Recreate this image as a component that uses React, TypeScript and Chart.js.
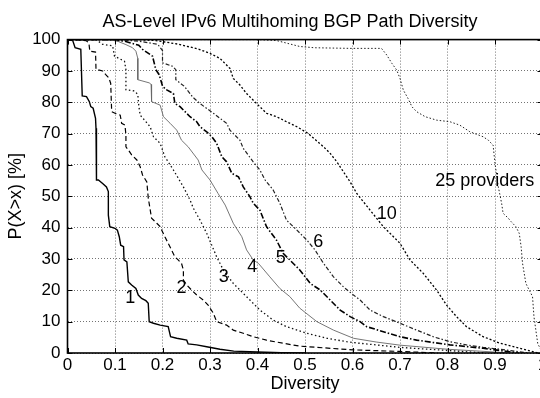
import React, { useEffect, useRef } from "react";
import { Chart, registerables } from "chart.js";

Chart.register(...registerables);

const FONT = "'Liberation Sans', Arial, Helvetica, sans-serif";

const chartTitle = "AS-Level IPv6 Multihoming BGP Path Diversity";
const xAxisTitle = "Diversity";
const yAxisTitle = "P(X>x) [%]";
const xTickLabels = ["0", "0.1", "0.2", "0.3", "0.4", "0.5", "0.6", "0.7", "0.8", "0.9", "1"];
const yTickLabels = ["0", "10", "20", "30", "40", "50", "60", "70", "80", "90", "100"];

// Number of providers (curve labels) and label anchor positions (data units)
const curveNames = ["1", "2", "3", "4", "5", "6", "10", "25 providers"];
const labelX = [0.132, 0.24, 0.329, 0.389, 0.449, 0.528, 0.672, 0.774];
const labelY = [17.4, 20.6, 24.1, 27.5, 30.2, 35.5, 44.3, 54.9];

// 1 provider
const div1 = [0, 0.011, 0.016, 0.028, 0.031, 0.04, 0.046, 0.049, 0.054, 0.059, 0.06, 0.061, 0.065, 0.074, 0.082, 0.086, 0.086, 0.089, 0.1, 0.105, 0.109, 0.112, 0.118, 0.119, 0.125, 0.128, 0.135, 0.144, 0.149, 0.156, 0.165, 0.17, 0.172, 0.181, 0.195, 0.212, 0.217, 0.23, 0.251, 0.254, 0.272, 0.293, 0.321, 0.35, 0.4, 0.45, 0.5];
const pct1 = [100, 99.7, 97.4, 96.9, 82, 81.8, 80.2, 78.6, 78.1, 74.9, 71.7, 55.2, 55.2, 54.1, 53, 51.5, 44, 40.3, 39.8, 39.2, 37.1, 34.4, 33.9, 29.7, 29.1, 22.7, 21.7, 20.6, 18.5, 17.4, 16.7, 15.9, 10, 9.5, 8.9, 8.4, 5.2, 4.7, 4.1, 2.9, 2.6, 2.0, 1.2, 0.6, 0.3, 0.1, 0];

// 2 providers
const div2 = [0, 0.039, 0.045, 0.047, 0.059, 0.06, 0.074, 0.08, 0.087, 0.091, 0.093, 0.1, 0.111, 0.114, 0.121, 0.123, 0.123, 0.128, 0.135, 0.146, 0.153, 0.158, 0.167, 0.17, 0.177, 0.188, 0.195, 0.205, 0.212, 0.219, 0.226, 0.233, 0.24, 0.244, 0.244, 0.251, 0.261, 0.272, 0.286, 0.296, 0.307, 0.314, 0.335, 0.349, 0.37, 0.391, 0.419, 0.454, 0.489, 0.525, 0.6, 0.7, 0.78];
const pct2 = [100, 99.7, 98.9, 96.3, 96, 90.5, 90, 88.9, 87.8, 86, 77, 76.5, 75.9, 73.3, 72.7, 69.5, 65.8, 64.8, 63.2, 61.6, 59.4, 56.8, 54.6, 49.5, 43, 41.4, 40.3, 37.1, 35, 32.9, 30.7, 29.7, 28.6, 26.5, 23.3, 21.7, 20.1, 18.5, 16.9, 15.3, 12.7, 10, 8.9, 7.3, 6.3, 5.2, 4.1, 3.1, 2.2, 1.8, 1, 0.5, 0];

// 3 providers
const div3 = [0, 0.06, 0.074, 0.095, 0.099, 0.12, 0.123, 0.123, 0.141, 0.148, 0.15, 0.153, 0.156, 0.174, 0.181, 0.195, 0.205, 0.223, 0.244, 0.258, 0.265, 0.279, 0.293, 0.314, 0.328, 0.349, 0.363, 0.384, 0.405, 0.433, 0.461, 0.504, 0.546, 0.588, 0.616, 0.7, 0.8, 0.86, 0.88];
const pct3 = [100, 100, 98.5, 98, 94.7, 93.1, 90.4, 84, 83.6, 82.5, 79, 75.9, 75.4, 72.2, 69, 66.9, 62.6, 58.4, 53, 48.8, 46.2, 42.4, 38.2, 30.7, 26.5, 22.2, 20.1, 16.9, 13.7, 10.5, 8.4, 6.3, 4.7, 3.6, 3.1, 1.8, 0.8, 0.2, 0];

// 4 providers
const div4 = [0, 0.08, 0.102, 0.123, 0.137, 0.144, 0.148, 0.148, 0.172, 0.176, 0.177, 0.195, 0.202, 0.216, 0.23, 0.24, 0.254, 0.275, 0.283, 0.3, 0.317, 0.332, 0.349, 0.367, 0.377, 0.391, 0.402, 0.426, 0.447, 0.468, 0.489, 0.525, 0.56, 0.602, 0.65, 0.7, 0.8, 0.9, 0.93];
const pct4 = [100, 100, 99.7, 98.4, 97.4, 96.3, 94, 87.2, 86.2, 85.7, 80.2, 79.1, 75.4, 73.3, 71.1, 67.9, 65.8, 61.6, 58.4, 55.2, 50.9, 47.2, 41.4, 37.1, 32.9, 29.7, 28.6, 24.3, 20.6, 18, 14.3, 10, 7.3, 4.7, 3.5, 2.5, 1.2, 0.3, 0];

// 5 providers
const div5 = [0, 0.08, 0.12, 0.15, 0.158, 0.179, 0.186, 0.193, 0.2, 0.207, 0.223, 0.226, 0.237, 0.258, 0.272, 0.279, 0.293, 0.304, 0.314, 0.325, 0.335, 0.346, 0.36, 0.37, 0.384, 0.391, 0.405, 0.419, 0.44, 0.454, 0.468, 0.489, 0.511, 0.532, 0.553, 0.574, 0.595, 0.616, 0.63, 0.665, 0.7, 0.735, 0.805, 0.875, 0.95];
const pct5 = [100, 100, 99.5, 98.2, 96.9, 94.7, 90.4, 88.8, 85.2, 84.1, 82.8, 79.6, 78.6, 75.4, 73.8, 72.2, 70.6, 69, 66.9, 62.6, 61, 57.3, 56.2, 53, 49.9, 47.8, 45.6, 40.3, 36, 31.8, 29.7, 26.5, 22.2, 20.1, 16.9, 13.7, 11.6, 10, 8.4, 6.8, 5.2, 4.1, 2.6, 1.5, 0];

// 6 providers
const div6 = [0, 0.1, 0.15, 0.19, 0.2, 0.2, 0.221, 0.228, 0.228, 0.246, 0.264, 0.279, 0.307, 0.335, 0.342, 0.363, 0.37, 0.391, 0.405, 0.416, 0.433, 0.447, 0.461, 0.483, 0.504, 0.521, 0.539, 0.56, 0.581, 0.602, 0.616, 0.637, 0.665, 0.7, 0.735, 0.77, 0.805, 0.84, 0.875, 0.911, 0.97];
const pct6 = [100, 100, 99.5, 98.5, 96.5, 92.6, 91.5, 90.4, 87.2, 85.1, 81.6, 79.6, 76.5, 73.3, 71.1, 67.9, 65.3, 61, 58.4, 55.2, 52, 47.8, 42.4, 39.2, 36, 32.9, 28.6, 24.3, 21.1, 18.5, 16.9, 13.7, 11.6, 9.5, 7.3, 5.2, 3.6, 2.6, 1.8, 1.2, 0];

// 10 providers
const div10 = [0, 0.14, 0.186, 0.235, 0.277, 0.3, 0.321, 0.342, 0.349, 0.363, 0.377, 0.398, 0.419, 0.44, 0.461, 0.483, 0.507, 0.539, 0.553, 0.567, 0.581, 0.595, 0.609, 0.637, 0.665, 0.7, 0.721, 0.749, 0.777, 0.798, 0.819, 0.84, 0.875, 0.911, 0.953, 0.99];
const pct10 = [100, 100, 99.7, 98.5, 96.9, 95.6, 94, 90.8, 87.6, 85.5, 82.8, 79.6, 76.5, 75.4, 73.8, 72.2, 70, 65.8, 63.7, 61, 57.8, 54.6, 50.9, 45.6, 40.3, 35, 29.7, 25.4, 20.1, 15.3, 11.6, 8.4, 5.2, 3.1, 1.5, 0];

// 25 providers
const div25 = [0, 0.4, 0.44, 0.489, 0.52, 0.595, 0.661, 0.672, 0.683, 0.693, 0.7, 0.707, 0.717, 0.725, 0.735, 0.753, 0.777, 0.805, 0.826, 0.847, 0.875, 0.886, 0.896, 0.9, 0.907, 0.914, 0.917, 0.928, 0.934, 0.944, 0.951, 0.955, 0.958, 0.965, 0.972, 0.979, 0.982, 0.986, 0.99, 1.0];
const pct25 = [100, 100, 99.7, 97.8, 97.4, 97.2, 97.2, 95.1, 92.4, 90.3, 87.6, 83.9, 81.2, 78.6, 77, 75.4, 74.3, 73.8, 72.7, 70.6, 69, 67.9, 66.3, 60.5, 53, 47.7, 44.6, 43, 41.9, 40.3, 38.2, 33.9, 28.6, 22.2, 20.1, 18, 11.6, 7.3, 3, 0];

const seriesX = [div1, div2, div3, div4, div5, div6, div10, div25];
const seriesY = [pct1, pct2, pct3, pct4, pct5, pct6, pct10, pct25];

const styles = [
  { color: "#000", width: 1.4, dash: [] as number[] },
  { color: "#000", width: 1.2, dash: [5, 3] },
  { color: "#111", width: 1.3, dash: [1.5, 2.5] },
  { color: "#666", width: 0.9, dash: [] as number[] },
  { color: "#000", width: 1.6, dash: [6, 2, 1.5, 2] },
  { color: "#222", width: 1.2, dash: [4, 2, 1.5, 2] },
  { color: "#000", width: 1.3, dash: [2, 2] },
  { color: "#222", width: 1.0, dash: [1.5, 2] },
];

const overlayPlugin = {
  id: "overlay",
  afterDatasetsDraw(chart: any) {
    const { ctx, chartArea: a, scales } = chart;
    const xs = scales.x;
    const ys = scales.y;
    ctx.save();
    ctx.setLineDash([]);
    ctx.strokeStyle = "#000";
    ctx.lineWidth = 1;
    xs.ticks.forEach((t: any) => {
      const px = Math.round(xs.getPixelForValue(t.value)) + 0.5;
      ctx.beginPath();
      ctx.moveTo(px, a.bottom);
      ctx.lineTo(px, a.bottom - 5);
      ctx.moveTo(px, a.top);
      ctx.lineTo(px, a.top + 5);
      ctx.stroke();
    });
    ys.ticks.forEach((t: any) => {
      const py = Math.round(ys.getPixelForValue(t.value)) + 0.5;
      ctx.beginPath();
      ctx.moveTo(a.left, py);
      ctx.lineTo(a.left + 5, py);
      ctx.moveTo(a.right, py);
      ctx.lineTo(a.right - 5, py);
      ctx.stroke();
    });
    ctx.lineWidth = 1.6;
    ctx.strokeRect(a.left, a.top, a.right - a.left, a.bottom - a.top);

    ctx.fillStyle = "#000";
    ctx.font = `18px ${FONT}`;
    ctx.textBaseline = "middle";
    curveNames.forEach((n, i) => {
      ctx.textAlign = i === curveNames.length - 1 ? "left" : "center";
      ctx.fillText(n, xs.getPixelForValue(labelX[i]), ys.getPixelForValue(labelY[i]));
    });

    ctx.textAlign = "center";
    ctx.textBaseline = "alphabetic";
    ctx.font = `18px ${FONT}`;
    ctx.fillText(chartTitle, 290, 26.5);
    ctx.restore();
  },
};

export default function App() {
  const ref = useRef<HTMLCanvasElement | null>(null);

  useEffect(() => {
    if (!ref.current) return;
    const datasets = seriesX.map((xs, i) => ({
      label: curveNames[i],
      data: xs.map((x, j) => ({ x, y: seriesY[i][j] })),
      borderColor: styles[i].color,
      borderWidth: styles[i].width,
      borderDash: styles[i].dash,
      pointRadius: 0,
      fill: false,
      tension: 0,
    }));
    const chart = new Chart(ref.current, {
      type: "line",
      data: { datasets },
      options: {
        animation: false,
        responsive: false,
        devicePixelRatio: 1,
        layout: { padding: { top: 39.6, right: 17.5, bottom: 0, left: 0 } },
        plugins: {
          legend: { display: false },
          tooltip: { enabled: false },
          title: { display: false },
        },
        scales: {
          x: {
            type: "linear",
            min: 0,
            max: 1,
            afterFit: (s: any) => {
              s.height = 45;
            },
            ticks: {
              stepSize: 0.1,
              autoSkip: false,
              maxRotation: 0,
              padding: 2,
              color: "#000",
              font: { family: FONT, size: 17 },
              callback: (_v: any, i: number) => xTickLabels[i],
            },
            grid: { color: "rgba(0,0,0,0.55)", lineWidth: 1, drawTicks: false },
            border: { display: false, dash: [1, 2] },
            title: {
              display: true,
              text: xAxisTitle,
              color: "#000",
              font: { family: FONT, size: 18 },
              padding: { top: 0, bottom: 3 },
            },
          },
          y: {
            type: "linear",
            min: 0,
            max: 100,
            afterFit: (s: any) => {
              s.width = 67.5;
            },
            ticks: {
              stepSize: 10,
              autoSkip: false,
              padding: 7,
              color: "#000",
              font: { family: FONT, size: 17 },
              callback: (_v: any, i: number) => yTickLabels[i],
            },
            grid: { color: "rgba(0,0,0,0.55)", lineWidth: 1, drawTicks: false },
            border: { display: false, dash: [1, 2] },
            title: {
              display: true,
              text: yAxisTitle,
              color: "#000",
              font: { family: FONT, size: 18 },
              padding: { top: 5, bottom: 0 },
            },
          },
        },
      },
      plugins: [overlayPlugin],
    });
    return () => chart.destroy();
  }, []);

  return (
    <div
      style={{
        position: "fixed",
        left: 0,
        top: 0,
        width: 540,
        height: 398,
        overflow: "hidden",
        background: "#fff",
      }}
    >
      <canvas ref={ref} width={560} height={398} style={{ display: "block" }} />
    </div>
  );
}
